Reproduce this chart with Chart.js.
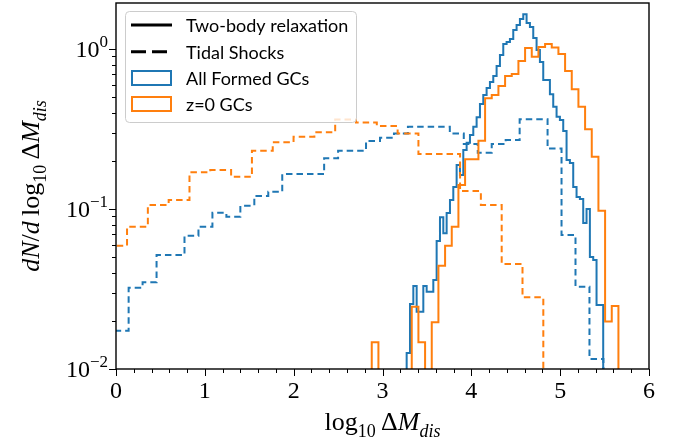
<!DOCTYPE html>
<html>
<head>
<meta charset="utf-8">
<script src="https://cdn.jsdelivr.net/npm/chart.js@4.4.1/dist/chart.umd.min.js"></script>
<style>
  html, body { margin: 0; padding: 0; background: #fff; }
  #chart { display: block; }
</style>
</head>
<body>
<canvas id="chart" width="675" height="441"></canvas>
<script>
// histogram bins: first edge, bin width, then dN/dlog10(dM) per bin
const relaxAllStart = 3.197;
const relaxAllWidth = 0.0375;
const relaxAllValues = [
  0, 0, 0.0126, 0.0255, 0.0330, 0.0228, 0.0228, 0.0330, 0.0304, 0.0304,
  0.036, 0.0631, 0.0887, 0.0705, 0.0944, 0.1138, 0.1372, 0.1884, 0.1631, 0.2338,
  0.2597, 0.2901, 0.3268, 0.3742, 0.4532, 0.516, 0.5706, 0.622, 0.678, 0.783,
  0.917, 1.075, 1.106, 1.155, 1.315, 1.413, 1.54, 1.648, 1.454, 1.372,
  1.172, 0.986, 0.829, 0.640, 0.640, 0.521, 0.436, 0.3774, 0.360, 0.3073,
  0.2024, 0.194, 0.1372, 0.1189, 0.1155, 0.0818, 0.1, 0.0501, 0.048, 0.0251,
  0.0251
];

const relaxZ0Start = 2.879;
const relaxZ0Width = 0.07505;
const relaxZ0Values = [
  0.0147, 0, 0, 0, 0, 0, 0.0245, 0.0147, 0, 0.0196,
  0.0442, 0.059, 0.0775, 0.1413, 0.2045, 0.2045, 0.267, 0.492, 0.516, 0.587,
  0.678, 0.698, 0.841, 1.014, 0.895, 1.029, 1.074, 1.022, 0.931, 0.729,
  0.560, 0.436, 0.315, 0.212, 0.0976, 0.0198, 0.0248
];

const tidalAllStart = -0.015;
const tidalAllWidth = 0.1572;
const tidalAllValues = [
  0.01735, 0.0322, 0.0348, 0.0516, 0.0516, 0.0681, 0.0775, 0.0948, 0.0895, 0.105,
  0.1206, 0.128, 0.1655, 0.1655, 0.1655, 0.2075, 0.2314, 0.2314, 0.266, 0.279,
  0.297, 0.327, 0.327, 0.327, 0.297, 0.255, 0.225, 0.255, 0.27, 0.364,
  0.364, 0.239, 0.0688, 0.0327, 0.01155
];

const tidalZ0Start = -0.110;
const tidalZ0Width = 0.2343;
const tidalZ0Values = [
  0.059, 0.0775, 0.106, 0.1138, 0.1695, 0.1753, 0.159, 0.2314, 0.261, 0.283,
  0.3015, 0.3626, 0.348, 0.330, 0.297, 0.2208, 0.2208, 0.1296, 0.106, 0.0453,
  0.0281
];

const xTickValues = [0, 1, 2, 3, 4, 5, 6];
const yTickValues = [0.01, 0.1, 1];
const yTickExponents = ["\u22122", "\u22121", "0"];
const legendLabels = ["Two-body relaxation", "Tidal Shocks", "All Formed GCs", "z=0 GCs"];

const COLORS = {
  blue: "#1f77b4",
  orange: "#ff7f0e",
  ink: "#000000",
  legendEdge: "#cccccc"
};
const SERIF = '"Liberation Serif", "DejaVu Serif", serif';
const SANS = 'Lato, "DejaVu Sans", sans-serif';
const FLOOR = 1e-4; // empty bins drop below the axis and get clipped
const DASH = [6.5, 4];

function stepPoints(start, width, values) {
  const end = start + values.length * width;
  const pts = [{ x: start, y: FLOOR }];
  values.forEach((v, i) => {
    pts.push({ x: start + i * width, y: v > 0 ? v : FLOOR });
  });
  const last = values[values.length - 1];
  pts.push({ x: end, y: last > 0 ? last : FLOOR });
  pts.push({ x: end, y: FLOOR });
  return pts;
}

function histDataset(label, start, width, values, color, dash) {
  return {
    label,
    data: stepPoints(start, width, values),
    borderColor: color,
    backgroundColor: color,
    borderWidth: 2,
    borderDash: dash,
    stepped: true,
    pointRadius: 0,
    fill: false
  };
}

function fontFor(style, size) {
  const italic = style.startsWith("i") ? "italic " : "";
  return `${italic}${size}px ${SERIF}`;
}

// draw a row of text pieces: [text, style] with style r / i / rs / is / sup
function drawRuns(ctx, runs, x, y, align, size) {
  const small = Math.round(size * 0.7);
  const sizeOf = (s) => (s.endsWith("s") || s === "sup" ? small : size);
  const widths = runs.map(([t, s]) => {
    ctx.font = fontFor(s, sizeOf(s));
    return ctx.measureText(t).width;
  });
  const total = widths.reduce((a, b) => a + b, 0);
  let cx = align === "center" ? x - total / 2 : align === "right" ? x - total : x;
  ctx.textAlign = "left";
  ctx.textBaseline = "alphabetic";
  runs.forEach(([t, s], i) => {
    ctx.font = fontFor(s, sizeOf(s));
    let dy = 0;
    if (s === "rs" || s === "is") dy = size * 0.25;
    if (s === "sup") dy = -size * 0.42;
    ctx.fillText(t, cx, y + dy);
    cx += widths[i];
  });
}

const axesDecor = {
  id: "axesDecor",
  afterDraw(chart) {
    const { ctx, chartArea: area } = chart;
    const xs = chart.scales.x;
    const ys = chart.scales.y;
    ctx.save();
    ctx.fillStyle = COLORS.ink;
    ctx.strokeStyle = COLORS.ink;

    // ticks
    ctx.lineWidth = 1;
    ctx.beginPath();
    for (let i = 0; i <= 30; i++) {
      const v = i * 0.2;
      const px = Math.round(xs.getPixelForValue(v)) + 0.5;
      const len = i % 5 === 0 ? 7 : 4;
      ctx.moveTo(px, area.bottom);
      ctx.lineTo(px, area.bottom + len);
    }
    [-2, -1, 0].forEach((d) => {
      for (let m = 1; m <= 9; m++) {
        const v = m * Math.pow(10, d);
        if (v > ys.max) continue;
        const py = Math.round(ys.getPixelForValue(v)) + 0.5;
        const len = m === 1 ? 7 : 4;
        ctx.moveTo(area.left, py);
        ctx.lineTo(area.left - len, py);
      }
    });
    ctx.stroke();

    // frame
    ctx.lineWidth = 1.4;
    ctx.strokeRect(area.left, area.top, area.right - area.left, area.bottom - area.top);

    // tick labels
    xTickValues.forEach((v) => {
      drawRuns(ctx, [[String(v), "r"]], xs.getPixelForValue(v), area.bottom + 29, "center", 24);
    });
    yTickValues.forEach((v, i) => {
      const py = ys.getPixelForValue(v);
      drawRuns(ctx, [["10", "r"], [yTickExponents[i], "sup"]], area.left - 8, py + 8, "right", 24);
    });

    // axis titles
    const xTitle = [["log", "r"], ["10", "rs"], ["\u2009", "r"], ["\u0394", "r"], ["M", "i"], ["dis", "is"]];
    drawRuns(ctx, xTitle, (area.left + area.right) / 2, 430, "center", 26);

    const yTitle = [
      ["dN", "i"], ["/", "r"], ["d", "i"], ["\u2009", "r"], ["log", "r"], ["10", "rs"],
      ["\u2009", "r"], ["\u0394", "r"], ["M", "i"], ["dis", "is"]
    ];
    ctx.save();
    ctx.translate(39, (area.top + area.bottom) / 2);
    ctx.rotate(-Math.PI / 2);
    drawRuns(ctx, yTitle, 0, 0, "center", 26);
    ctx.restore();

    // legend
    const lx = area.left + 9;
    const ly = area.top + 8;
    const lw = 231;
    const lh = 111;
    ctx.beginPath();
    if (typeof ctx.roundRect === "function") {
      ctx.roundRect(lx + 0.5, ly + 0.5, lw, lh, 4);
    } else {
      ctx.rect(lx + 0.5, ly + 0.5, lw, lh);
    }
    ctx.fillStyle = "rgba(255,255,255,0.8)";
    ctx.fill();
    ctx.strokeStyle = COLORS.legendEdge;
    ctx.lineWidth = 1;
    ctx.stroke();

    const rowY = [25, 51.7, 78, 104];
    const hx0 = lx + 6;
    const hx1 = lx + 47;
    ctx.lineWidth = 3;
    ctx.strokeStyle = COLORS.ink;
    ctx.setLineDash([]);
    ctx.beginPath();
    ctx.moveTo(hx0, rowY[0]);
    ctx.lineTo(hx1, rowY[0]);
    ctx.stroke();
    ctx.setLineDash([15, 6]);
    ctx.beginPath();
    ctx.moveTo(hx0, rowY[1]);
    ctx.lineTo(hx1, rowY[1]);
    ctx.stroke();
    ctx.setLineDash([]);
    ctx.lineWidth = 2;
    ctx.strokeStyle = COLORS.blue;
    ctx.strokeRect(hx0 + 1, rowY[2] - 7, hx1 - hx0 - 2, 14);
    ctx.strokeStyle = COLORS.orange;
    ctx.strokeRect(hx0 + 1, rowY[3] - 7, hx1 - hx0 - 2, 14);

    ctx.fillStyle = COLORS.ink;
    ctx.font = `18px ${SANS}`;
    ctx.textAlign = "left";
    ctx.textBaseline = "middle";
    legendLabels.forEach((t, i) => ctx.fillText(t, lx + 61, rowY[i] + 1));

    ctx.restore();
  }
};

const canvas = document.getElementById("chart");

new Chart(canvas, {
  type: "line",
  data: {
    datasets: [
      histDataset("z=0 relaxation", relaxZ0Start, relaxZ0Width, relaxZ0Values, COLORS.orange, []),
      histDataset("z=0 tidal", tidalZ0Start, tidalZ0Width, tidalZ0Values, COLORS.orange, DASH),
      histDataset("all relaxation", relaxAllStart, relaxAllWidth, relaxAllValues, COLORS.blue, []),
      histDataset("all tidal", tidalAllStart, tidalAllWidth, tidalAllValues, COLORS.blue, DASH)
    ]
  },
  options: {
    responsive: false,
    animation: false,
    events: [],
    layout: { padding: { top: 3, right: 26, left: 0, bottom: 0 } },
    plugins: {
      legend: { display: false },
      tooltip: { enabled: false }
    },
    scales: {
      x: {
        type: "linear",
        min: 0,
        max: 6,
        grid: { display: false },
        border: { display: false },
        ticks: { display: false },
        afterFit(scale) { scale.height = 72; }
      },
      y: {
        type: "logarithmic",
        min: 0.01,
        max: 1.94,
        grid: { display: false },
        border: { display: false },
        ticks: { display: false },
        afterFit(scale) { scale.width = 116; }
      }
    }
  },
  plugins: [axesDecor]
});
</script>
</body>
</html>
